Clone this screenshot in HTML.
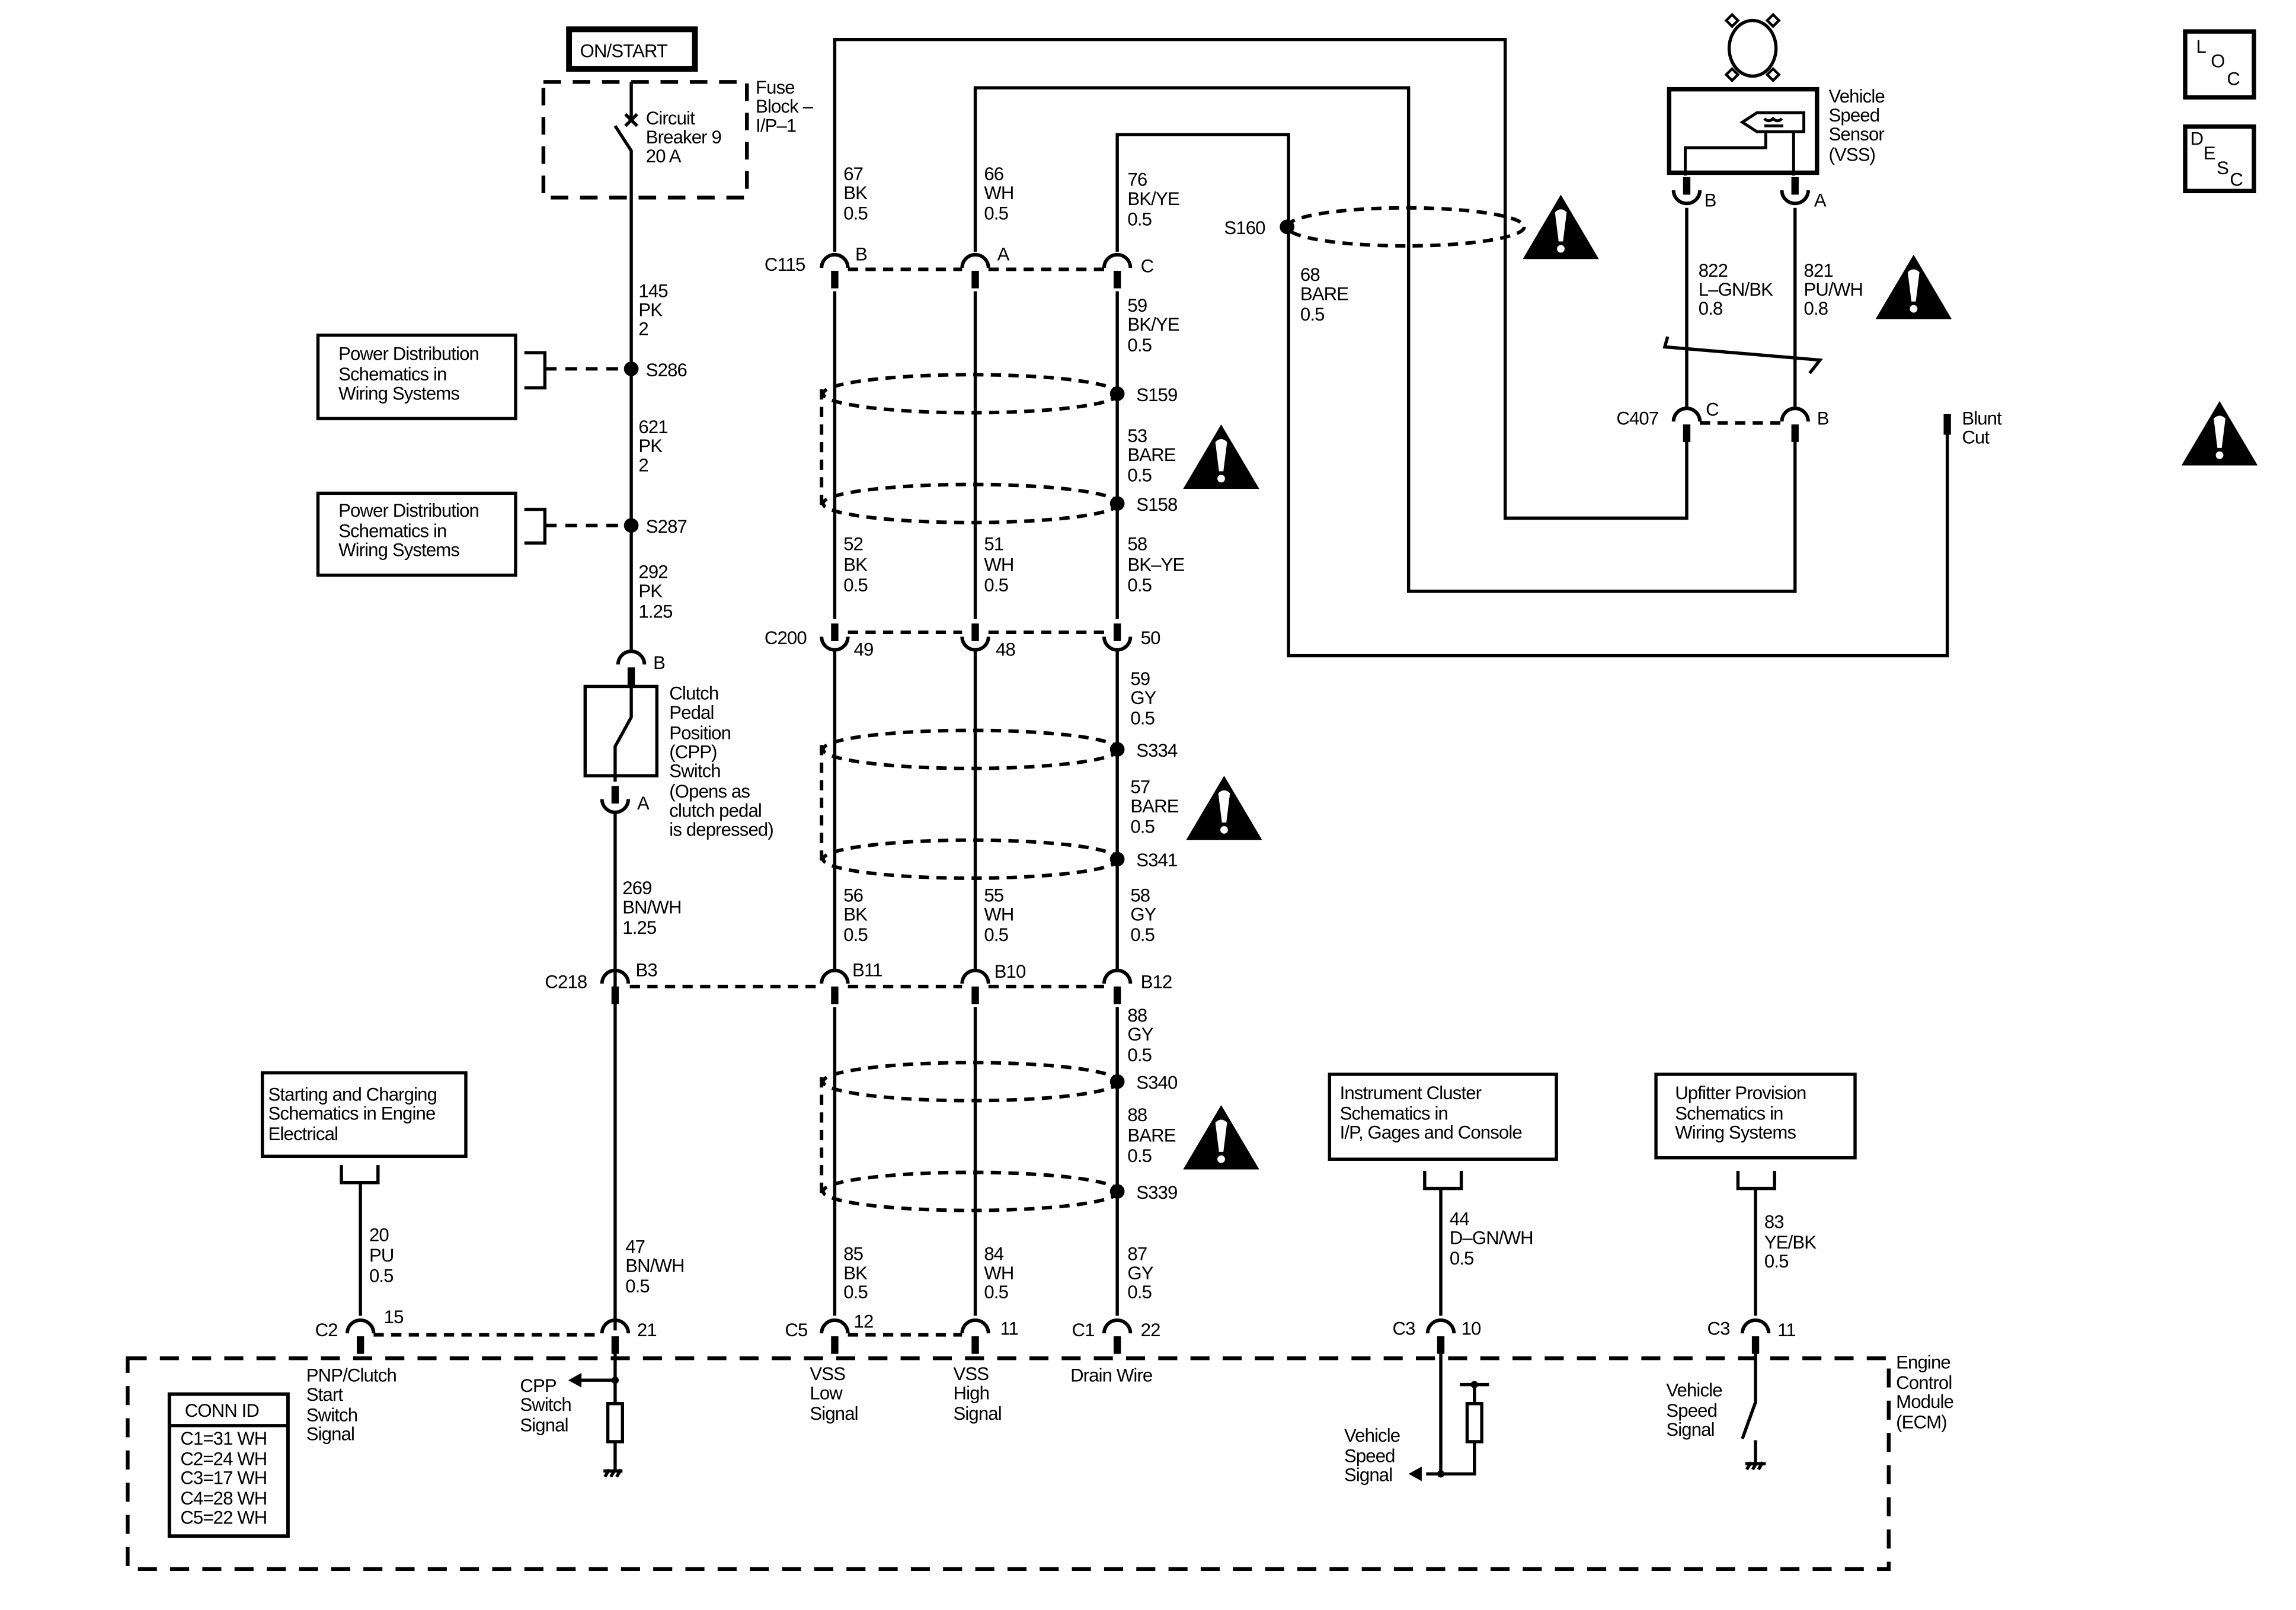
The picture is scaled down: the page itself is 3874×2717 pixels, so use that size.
<!DOCTYPE html>
<html><head><meta charset="utf-8"><style>
html,body{margin:0;padding:0;background:#fff}
svg{display:block}
text{font-family:"Liberation Sans",sans-serif;font-size:12.6px;fill:#000;letter-spacing:-0.35px}
</style></head><body>
<svg width="3874" height="2717" viewBox="0 0 1568 1100" xmlns="http://www.w3.org/2000/svg">
<defs>
<g id="warn">
<polygon points="26,0 52,44 0,44" fill="#000"/>
<path d="M22,12 Q26,8 30,12 L27.5,32 L24.5,32 Z" fill="#fff"/>
<circle cx="26" cy="37" r="2.6" fill="#fff"/>
</g>
<g id="ct">
<path d="M-9,4 A9,9 0 0 1 9,4" fill="none" stroke="#000" stroke-width="2.4"/>
<rect x="-2.5" y="6" width="5" height="12" fill="#000"/>
</g>
<g id="cb">
<rect x="-2.5" y="-12" width="5" height="12" fill="#000"/>
<path d="M-9,-3 A9,9 0 0 0 9,-3" fill="none" stroke="#000" stroke-width="2.4"/>
</g>
</defs>
<g fill="none" stroke="#000" stroke-width="2.2">
<!-- ON/START -->
<rect x="388.5" y="20" width="86" height="27" stroke-width="4"/>
<!-- fuse box -->
<rect x="371" y="56" width="139" height="79" stroke-width="2.6" stroke-dasharray="12,8"/>
<path d="M431,56 V82 M427,78 L435,86 M435,78 L427,86 M420,86 L431,103 V444"/>
<!-- S286/S287 -->
<path d="M372,252 H431 M372,359 H431" stroke-dasharray="8,6" stroke-width="2.4"/>
<path d="M358,241 H372 V265 H358 M358,348 H372 V371 H358"/>
<rect x="217" y="229" width="135" height="57"/>
<rect x="217" y="337" width="135" height="56"/>
<!-- CPP switch -->
<rect x="399.5" y="469" width="49" height="61"/>
<path d="M431,460 V490 L420,510 V534"/>
<path d="M420,556 V909"/>
<!-- column wires -->
<path d="M570,172 V27 H1028 V354 H1152 V298"/>
<path d="M666,172 V60 H962 V404 H1226 V298"/>
<path d="M763,172 V92 H880 V448 H1330 V296"/>
<path d="M570,199 V423 M666,199 V423 M763,199 V423"/>
<path d="M570,445 V664 M666,445 V664 M763,445 V664"/>
<path d="M570,688 V899 M666,688 V899 M763,688 V899"/>
<!-- connector dashes -->
<path d="M579,184 H657 M675,184 H754 M579,432 H657 M675,432 H754 M430,674 H561 M579,674 H657 M675,674 H754 M255,912 H411 M579,912 H657 M1161,289 H1217" stroke-dasharray="7,5" stroke-width="2.4"/>
<!-- shields -->
<g stroke-dasharray="7,5" stroke-width="2.4">
<ellipse cx="663" cy="269" rx="101" ry="13"/><ellipse cx="663" cy="344" rx="101" ry="13"/><path d="M561,266 V348"/>
<ellipse cx="663" cy="512" rx="101" ry="13"/><ellipse cx="663" cy="587" rx="101" ry="13"/><path d="M561,509 V591"/>
<ellipse cx="663" cy="739" rx="101" ry="13"/><ellipse cx="663" cy="814" rx="101" ry="13"/><path d="M561,736 V818"/>
<ellipse cx="960" cy="155" rx="81" ry="13"/>
</g>
<!-- VSS -->
<ellipse cx="1197" cy="33" rx="16" ry="19"/>
<path d="M1183,47 l-4,4 4,4 4,-4z M1211,47 l-4,4 4,4 4,-4z M1183,18 l-4,-4 4,-4 4,4z M1211,18 l-4,-4 4,-4 4,4z" stroke-width="1.8"/>
<rect x="1140" y="61" width="101" height="57" stroke-width="3"/>
<path d="M1232,77 H1200 L1190,83.5 L1200,90 H1232 Z" stroke-width="2"/>
<path d="M1206,90 V101 H1151 V120 M1225,90 V120" stroke-width="2"/>
<path d="M1205,81 q3,3 6,0 q3,3 6,0 M1205,86 H1218" stroke-width="2"/>
<path d="M1152,142 V278 M1226,142 V278"/>
<path d="M1139,230 L1137,237 L1243,246 L1236,255"/>
<rect x="1327.5" y="283" width="5" height="14" fill="#000" stroke="none"/>
<!-- bottom boxes -->
<rect x="179" y="733" width="139" height="57"/>
<path d="M233,796 V808 H258 V796 M246,808 V899"/>
<rect x="908" y="734" width="155" height="58"/>
<path d="M973,800 V812 H998 V800 M984,812 V899"/>
<rect x="1131" y="734" width="136" height="57"/>
<path d="M1187,800 V812 H1212 V800 M1199,812 V899"/>
<!-- ECM box -->
<rect x="87" y="928" width="1203" height="144" stroke-width="2.6" stroke-dasharray="13,9"/>
<rect x="115.5" y="952.5" width="81" height="97" stroke-width="2.4"/>
<path d="M116,974 H196"/>
<!-- CPP internal -->
<path d="M420,916 V959 M420,943 H397 M420,985 V1005 M413,1009 L416,1004 M417,1009 L420,1004 M421,1009 L424,1004 M412,1005 H425"/>
<rect x="415" y="959" width="10" height="26"/>
<!-- VSS internal C3 10 -->
<path d="M984,916 V1007 H974 M984,1007 H1007 V985 M1007,959 V946 M997,946 H1017"/>
<rect x="1002" y="959" width="10" height="26"/>
<!-- C3 11 -->
<path d="M1199,916 V958 L1190,983 M1199,984 V1000 M1193,1004 L1196,999 M1197,1004 L1200,999 M1201,1004 L1204,999 M1192,1000 H1206"/>
<!-- LOC / DESC -->
<rect x="1492.5" y="21.5" width="47" height="45" stroke-width="3"/>
<rect x="1492.5" y="86.5" width="47" height="44" stroke-width="3"/>
</g>
<!-- filled bits -->
<polygon points="388,943 397,938 397,948" fill="#000"/>
<polygon points="962,1007 971,1002 971,1012" fill="#000"/>
<circle cx="420" cy="943" r="2.5"/><circle cx="984" cy="1007" r="2.5"/><circle cx="1007" cy="946" r="2.5"/>
<circle cx="431" cy="252" r="5"/><circle cx="431" cy="359" r="5"/>
<circle cx="763" cy="269" r="5"/><circle cx="763" cy="344" r="5"/>
<circle cx="763" cy="512" r="5"/><circle cx="763" cy="587" r="5"/>
<circle cx="763" cy="739" r="5"/><circle cx="763" cy="814" r="5"/>
<circle cx="879" cy="155" r="5"/>
<!-- connectors -->
<use href="#ct" x="570" y="179"/><use href="#ct" x="666" y="179"/><use href="#ct" x="763" y="179"/>
<use href="#cb" x="570" y="438"/><use href="#cb" x="666" y="438"/><use href="#cb" x="763" y="438"/>
<use href="#ct" x="431" y="450"/>
<use href="#cb" x="420" y="549"/>
<use href="#ct" x="420" y="668"/><use href="#ct" x="570" y="668"/><use href="#ct" x="666" y="668"/><use href="#ct" x="763" y="668"/>
<use href="#ct" x="246" y="907"/><use href="#ct" x="420" y="907"/><use href="#ct" x="570" y="907"/><use href="#ct" x="666" y="907"/><use href="#ct" x="763" y="907"/><use href="#ct" x="984" y="907"/><use href="#ct" x="1199" y="907"/>
<use href="#ct" x="1152" y="284"/><use href="#ct" x="1226" y="284"/>
<use href="#cb" x="1152" y="133"/><use href="#cb" x="1226" y="133"/>
<!-- warnings -->
<use href="#warn" x="1040" y="133"/>
<use href="#warn" x="1281" y="174"/>
<use href="#warn" x="808" y="290"/>
<use href="#warn" x="810" y="530"/>
<use href="#warn" x="808" y="755"/>
<use href="#warn" x="1490" y="274"/>
<!-- text -->
<text x="396" y="39">ON/START</text>
<text x="441" y="85">Circuit</text><text x="441" y="98">Breaker 9</text><text x="441" y="111">20 A</text>
<text x="516" y="64">Fuse</text><text x="516" y="77">Block –</text><text x="516" y="90">I/P–1</text>
<text x="436" y="203">145</text><text x="436" y="216">PK</text><text x="436" y="229">2</text>
<text x="441" y="257">S286</text>
<text x="231" y="246">Power Distribution</text><text x="231" y="260">Schematics in</text><text x="231" y="273">Wiring Systems</text>
<text x="436" y="296">621</text><text x="436" y="309">PK</text><text x="436" y="322">2</text>
<text x="441" y="364">S287</text>
<text x="231" y="353">Power Distribution</text><text x="231" y="367">Schematics in</text><text x="231" y="380">Wiring Systems</text>
<text x="436" y="395">292</text><text x="436" y="408">PK</text><text x="436" y="422">1.25</text>
<text x="446" y="457">B</text>
<text x="457" y="478">Clutch</text><text x="457" y="491">Pedal</text><text x="457" y="505">Position</text><text x="457" y="518">(CPP)</text><text x="457" y="531">Switch</text><text x="457" y="545">(Opens as</text><text x="457" y="558">clutch pedal</text><text x="457" y="571">is depressed)</text>
<text x="435" y="553">A</text>
<text x="425" y="611">269</text><text x="425" y="624">BN/WH</text><text x="425" y="638">1.25</text>
<text x="372" y="675">C218</text><text x="434" y="667">B3</text>
<text x="427" y="856">47</text><text x="427" y="869">BN/WH</text><text x="427" y="883">0.5</text>
<text x="576" y="123">67</text><text x="576" y="136">BK</text><text x="576" y="150">0.5</text>
<text x="672" y="123">66</text><text x="672" y="136">WH</text><text x="672" y="150">0.5</text>
<text x="770" y="127">76</text><text x="770" y="140">BK/YE</text><text x="770" y="154">0.5</text>
<text x="522" y="185">C115</text><text x="584" y="178">B</text><text x="681" y="178">A</text><text x="779" y="186">C</text>
<text x="770" y="213">59</text><text x="770" y="226">BK/YE</text><text x="770" y="240">0.5</text>
<text x="776" y="274">S159</text>
<text x="770" y="302">53</text><text x="770" y="315">BARE</text><text x="770" y="329">0.5</text>
<text x="776" y="349">S158</text>
<text x="576" y="376">52</text><text x="576" y="390">BK</text><text x="576" y="404">0.5</text>
<text x="672" y="376">51</text><text x="672" y="390">WH</text><text x="672" y="404">0.5</text>
<text x="770" y="376">58</text><text x="770" y="390">BK–YE</text><text x="770" y="404">0.5</text>
<text x="522" y="440">C200</text><text x="583" y="448">49</text><text x="680" y="448">48</text><text x="779" y="440">50</text>
<text x="772" y="468">59</text><text x="772" y="481">GY</text><text x="772" y="495">0.5</text>
<text x="776" y="517">S334</text>
<text x="772" y="542">57</text><text x="772" y="555">BARE</text><text x="772" y="569">0.5</text>
<text x="776" y="592">S341</text>
<text x="576" y="616">56</text><text x="576" y="629">BK</text><text x="576" y="643">0.5</text>
<text x="672" y="616">55</text><text x="672" y="629">WH</text><text x="672" y="643">0.5</text>
<text x="772" y="616">58</text><text x="772" y="629">GY</text><text x="772" y="643">0.5</text>
<text x="582" y="667">B11</text><text x="679" y="668">B10</text><text x="779" y="675">B12</text>
<text x="770" y="698">88</text><text x="770" y="711">GY</text><text x="770" y="725">0.5</text>
<text x="776" y="744">S340</text>
<text x="770" y="766">88</text><text x="770" y="780">BARE</text><text x="770" y="794">0.5</text>
<text x="776" y="819">S339</text>
<text x="576" y="861">85</text><text x="576" y="874">BK</text><text x="576" y="887">0.5</text>
<text x="672" y="861">84</text><text x="672" y="874">WH</text><text x="672" y="887">0.5</text>
<text x="770" y="861">87</text><text x="770" y="874">GY</text><text x="770" y="887">0.5</text>
<text x="836" y="160">S160</text>
<text x="888" y="192">68</text><text x="888" y="205">BARE</text><text x="888" y="219">0.5</text>
<text x="1249" y="70">Vehicle</text><text x="1249" y="83">Speed</text><text x="1249" y="96">Sensor</text><text x="1249" y="110">(VSS)</text>
<text x="1164" y="141">B</text><text x="1239" y="141">A</text>
<text x="1160" y="189">822</text><text x="1160" y="202">L–GN/BK</text><text x="1160" y="215">0.8</text>
<text x="1232" y="189">821</text><text x="1232" y="202">PU/WH</text><text x="1232" y="215">0.8</text>
<text x="1104" y="290">C407</text><text x="1165" y="284">C</text><text x="1241" y="290">B</text>
<text x="1340" y="290">Blunt</text><text x="1340" y="303">Cut</text>
<text x="1500" y="36">L</text><text x="1510" y="46">O</text><text x="1521" y="58">C</text>
<text x="1496" y="99">D</text><text x="1505" y="109">E</text><text x="1514" y="119">S</text><text x="1523" y="127">C</text>
<text x="183" y="752">Starting and Charging</text><text x="183" y="765">Schematics in Engine</text><text x="183" y="779">Electrical</text>
<text x="252" y="848">20</text><text x="252" y="862">PU</text><text x="252" y="876">0.5</text>
<text x="915" y="751">Instrument Cluster</text><text x="915" y="765">Schematics in</text><text x="915" y="778">I/P, Gages and Console</text>
<text x="990" y="837">44</text><text x="990" y="850">D–GN/WH</text><text x="990" y="864">0.5</text>
<text x="1144" y="751">Upfitter Provision</text><text x="1144" y="765">Schematics in</text><text x="1144" y="778">Wiring Systems</text>
<text x="1205" y="839">83</text><text x="1205" y="853">YE/BK</text><text x="1205" y="866">0.5</text>
<text x="215" y="913">C2</text><text x="262" y="904">15</text><text x="435" y="913">21</text>
<text x="536" y="913">C5</text><text x="583" y="907">12</text><text x="683" y="912">11</text>
<text x="732" y="913">C1</text><text x="779" y="913">22</text>
<text x="951" y="912">C3</text><text x="998" y="912">10</text>
<text x="1166" y="912">C3</text><text x="1214" y="913">11</text>
<text x="1295" y="935">Engine</text><text x="1295" y="949">Control</text><text x="1295" y="962">Module</text><text x="1295" y="976">(ECM)</text>
<text x="209" y="944">PNP/Clutch</text><text x="209" y="957">Start</text><text x="209" y="971">Switch</text><text x="209" y="984">Signal</text>
<text x="126" y="968">CONN ID</text>
<text x="123" y="987">C1=31 WH</text><text x="123" y="1001">C2=24 WH</text><text x="123" y="1014">C3=17 WH</text><text x="123" y="1028">C4=28 WH</text><text x="123" y="1041">C5=22 WH</text>
<text x="355" y="951">CPP</text><text x="355" y="964">Switch</text><text x="355" y="978">Signal</text>
<text x="553" y="943">VSS</text><text x="553" y="956">Low</text><text x="553" y="970">Signal</text>
<text x="651" y="943">VSS</text><text x="651" y="956">High</text><text x="651" y="970">Signal</text>
<text x="731" y="944">Drain Wire</text>
<text x="918" y="985">Vehicle</text><text x="918" y="999">Speed</text><text x="918" y="1012">Signal</text>
<text x="1138" y="954">Vehicle</text><text x="1138" y="968">Speed</text><text x="1138" y="981">Signal</text>
</svg>
</body></html>
